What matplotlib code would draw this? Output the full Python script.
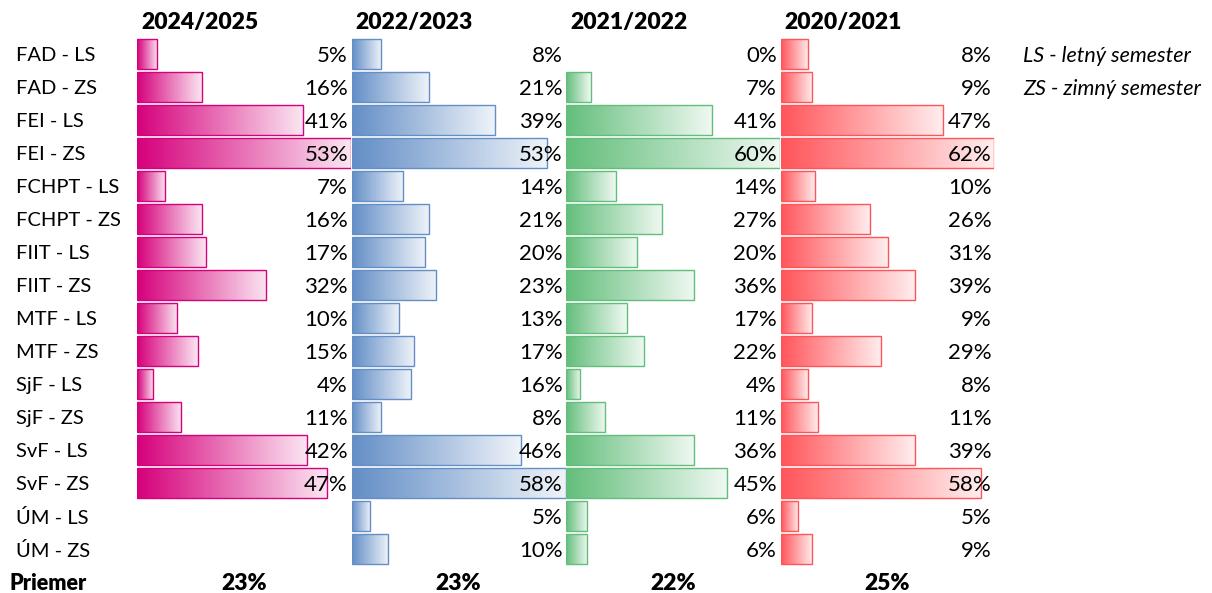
import numpy as np
import matplotlib
matplotlib.use("Agg")
import matplotlib.pyplot as plt
from matplotlib.colors import LinearSegmentedColormap, to_rgb
from matplotlib.patches import Rectangle
from matplotlib.transforms import blended_transform_factory

plt.rcParams['font.family'] = ['Lato', 'DejaVu Sans']

# data ..........................................................................
rows = ["FAD - LS", "FAD - ZS", "FEI - LS", "FEI - ZS", "FCHPT - LS", "FCHPT - ZS",
        "FIIT - LS", "FIIT - ZS", "MTF - LS", "MTF - ZS", "SjF - LS", "SjF - ZS",
        "SvF - LS", "SvF - ZS", "ÚM - LS", "ÚM - ZS"]
years = ["2024/2025", "2022/2023", "2021/2022", "2020/2021"]

v2425 = [5, 16, 41, 53, 7, 16, 17, 32, 10, 15, 4, 11, 42, 47, np.nan, np.nan]
v2223 = [8, 21, 39, 53, 14, 21, 20, 23, 13, 17, 16, 8, 46, 58, 5, 10]
v2122 = [0, 7, 41, 60, 14, 27, 20, 36, 17, 22, 4, 11, 36, 45, 6, 6]
v2021 = [8, 9, 47, 62, 10, 26, 31, 39, 9, 29, 8, 11, 39, 58, 5, 9]
averages = [23, 23, 22, 25]

colors = ["#D6007B", "#638EC6", "#63BE7B", "#FF555A"]
legend = ["LS - letný semester", "ZS - zimný semester"]

series = [v2425, v2223, v2122, v2021]

# layout (pixels) ...............................................................
W, H = 1212, 593
top_px, bot_px = 37.5, 565.5
col_left = 137
col_w = 214.5
dy = 0.06   # text sits a bit lower than the row centre

fig = plt.figure(figsize=(W / 100, H / 100), dpi=100)

def light(c, f):
    r = np.array(to_rgb(c))
    return tuple(r + (1 - r) * f)

h = 0.88
grad = np.linspace(0, 1, 256).reshape(1, -1)
axes = []
for k in range(4):
    ax = fig.add_axes([(col_left + col_w * k) / W, 1 - bot_px / H,
                       (col_w - 0.5) / W, (bot_px - top_px) / H])
    axes.append(ax)
    vals = np.array(series[k], dtype=float)
    vmax = np.nanmax(vals)
    cm = LinearSegmentedColormap.from_list("g%d" % k, [colors[k], light(colors[k], 0.9)])
    tr = blended_transform_factory(ax.transAxes, ax.transData)
    for i, v in enumerate(vals):
        if np.isnan(v):
            continue
        if v > 0:
            ax.imshow(grad, cmap=cm, extent=[0, v, i + h / 2, i - h / 2],
                      aspect='auto', interpolation='bilinear', zorder=1)
            ax.add_patch(Rectangle((0, i - h / 2), v, h, fill=False,
                                   edgecolor=colors[k], lw=1.0, zorder=2))
        ax.text(0.986, i + dy, "%d%%" % v, transform=tr, ha='right', va='center',
                fontsize=16, color='black', zorder=3)
    ax.text(4 / col_w, -1 + dy, years[k], transform=tr, ha='left', va='center',
            fontsize=16.5, fontweight='heavy', clip_on=False)
    ax.text(0.5, 16 + dy, "%d%%" % averages[k], transform=tr, ha='center', va='center',
            fontsize=16.5, fontweight='heavy', clip_on=False)
    ax.set_xlim(0, vmax)
    ax.set_ylim(len(rows) - 0.5, -0.5)
    ax.axis('off')

# row labels and legend
ftr = blended_transform_factory(fig.transFigure, axes[0].transData)
for i, r in enumerate(rows):
    fig.text(16 / W, i + dy, r, transform=ftr, ha='left', va='center', fontsize=14.5)
fig.text(10 / W, 16 + dy, "Priemer", transform=ftr, ha='left', va='center',
         fontsize=15.5, fontweight='heavy')
for i, t in enumerate(legend):
    fig.text(1023 / W, i + dy, t, transform=ftr, ha='left', va='center',
             fontsize=15.5, style='italic')

fig.savefig("out.png", dpi=100)
